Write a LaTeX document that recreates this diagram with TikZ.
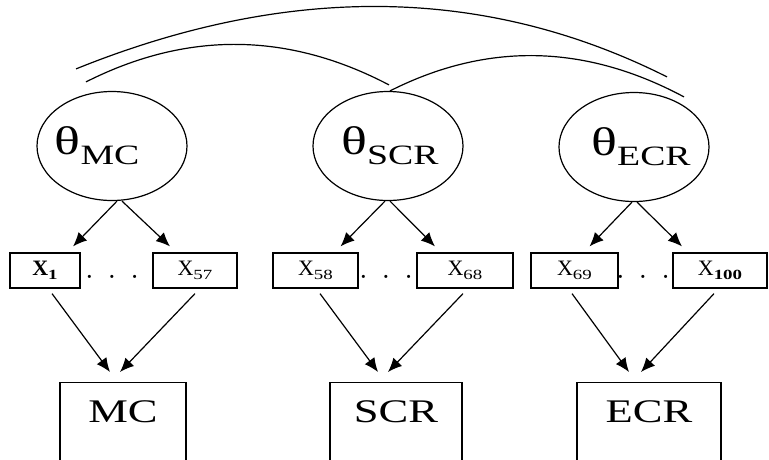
\documentclass[tikz,border=0pt]{standalone}
\usepackage{fontspec}
\setmainfont{Liberation Serif}
\usepackage{graphicx}
\usetikzlibrary{shapes.geometric,arrows.meta}
\newcommand{\stretchx}{1.35}
\newcommand{\wide}[1]{\scalebox{\stretchx}[1]{#1}}
\newcommand{\lat}[1]{\wide{{\fontsize{40}{40}\selectfont θ}\raisebox{-10pt}{\fontsize{28}{28}\selectfont #1}}}
\newcommand{\obs}[1]{{\fontsize{22}{22}\selectfont X}\raisebox{-4pt}{\wide{\fontsize{14}{14}\selectfont #1}}}
\newcommand{\dotrow}{{\fontsize{26}{26}\selectfont ·\hspace{14pt}·\hspace{14pt}·}}
\tikzset{
    common/.style={draw, line width=1.2pt},
    latent/.style={common, ellipse, minimum width=150pt, minimum height=109pt, inner sep=0pt},
    item/.style={common, rectangle, minimum height=35pt, inner sep=0pt},
    score/.style={common, rectangle, anchor=north, inner sep=0pt, text height=40pt, text depth=45pt, font=\fontsize{33}{33}\selectfont},
    arr/.style={line width=1.2pt, -{Latex[length=14pt,width=12pt]}},
    cov/.style={line width=1.2pt}
}
\begin{document}
\begin{tikzpicture}[x=1pt, y=-1pt]
    \useasboundingbox (0,0) rectangle (769,459);

    \node[latent] (tmc) at (112,146) {\makebox[0pt]{\lat{MC}\kern30pt}};
    \node[latent] (tscr) at (388,146) {\makebox[0pt]{\kern4pt\lat{SCR}}};
    \node[latent] (tecr) at (634,147) {\makebox[0pt]{\kern14pt\lat{ECR}}};

    \node[item, minimum width=70pt] (x1) at (45,270.5) {\bfseries\obs{1}};
    \node (d1) at (112,280) {\dotrow};
    \node[item, minimum width=84pt] (x57) at (195,270.5) {\obs{57}};
    \node[item, minimum width=85pt] (x58) at (315.5,270.5) {\obs{58}};
    \node (d2) at (386,280) {\dotrow};
    \node[item, minimum width=96pt] (x68) at (465,270.5) {\obs{68}};
    \node[item, minimum width=87pt] (x69) at (574.5,270.5) {\obs{69}};
    \node (d3) at (643,280) {\dotrow};
    \node[item, minimum width=94pt] (x100) at (720,270.5) {\obs{\textbf{100}}};

    \node[score, minimum width=126pt] (mc) at (123,382) {\wide{MC}};
    \node[score, minimum width=132pt] (scr) at (396,382) {\wide{SCR}};
    \node[score, minimum width=144pt] (ecr) at (649,382) {\wide{ECR}};

    \draw[cov] ([xshift=-36pt,yshift=22pt]tmc.north) .. controls +(213,-86) and +(-181,-91) .. ([xshift=33pt,yshift=15pt]tecr.north);
    \draw[cov] ([xshift=-26pt,yshift=9pt]tmc.north) .. controls +(101,-51) and +(-101,-53) .. ([xshift=1pt,yshift=6pt]tscr.north);
    \draw[cov] ([xshift=2pt]tscr.north) .. controls +(97,-49) and +(-99,-53) .. ([xshift=50pt,yshift=-5pt]tecr.north);

    \draw[arr] ([xshift=5pt]tmc.south) -- ([xshift=28pt,yshift=6pt]x1.north);
    \draw[arr] ([xshift=10pt]tmc.south) -- ([xshift=-25pt,yshift=6pt]x57.north);
    \draw[arr] ([xshift=-3pt]tscr.south) -- ([xshift=25pt,yshift=6pt]x58.north);
    \draw[arr] ([xshift=2pt]tscr.south) -- ([xshift=-30pt,yshift=6pt]x68.north);
    \draw[arr] ([xshift=-2pt]tecr.south) -- ([xshift=15pt,yshift=6pt]x69.north);
    \draw[arr] ([xshift=3pt]tecr.south) -- ([xshift=-38pt,yshift=6pt]x100.north);

    \draw[arr] ([xshift=7pt,yshift=-5pt]x1.south) -- ([xshift=-13pt,yshift=10pt]mc.north);
    \draw[arr] ([yshift=-5pt]x57.south) -- ([xshift=-3pt,yshift=10pt]mc.north);
    \draw[arr] ([xshift=4.5pt,yshift=-5pt]x58.south) -- ([xshift=-18pt,yshift=10pt]scr.north);
    \draw[arr] ([xshift=-2pt,yshift=-5pt]x68.south) -- ([xshift=-8pt,yshift=10pt]scr.north);
    \draw[arr] ([xshift=-2.5pt,yshift=-5pt]x69.south) -- ([xshift=-20pt,yshift=10pt]ecr.north);
    \draw[arr] ([xshift=-6pt,yshift=-5pt]x100.south) -- ([xshift=-8pt,yshift=10pt]ecr.north);
\end{tikzpicture}
\end{document}
